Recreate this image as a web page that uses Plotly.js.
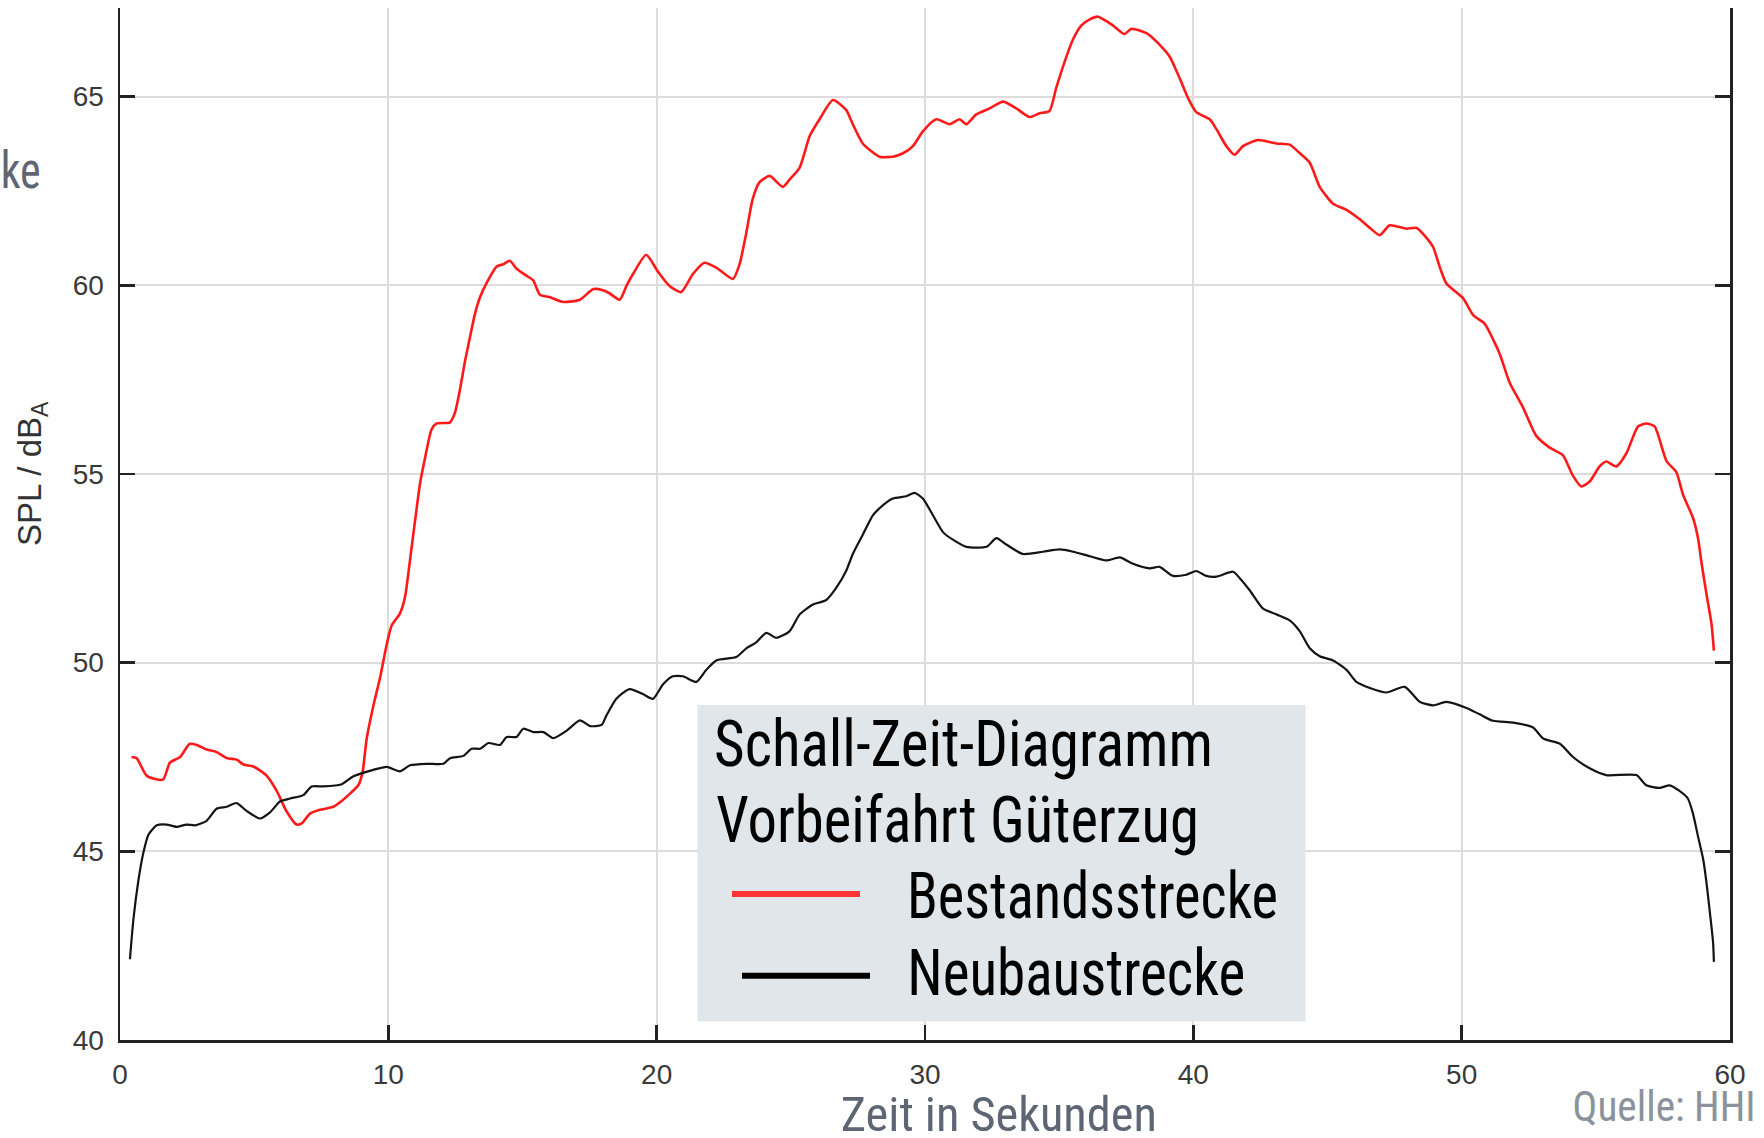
<!DOCTYPE html>
<html>
<head>
<meta charset="utf-8">
<script src="https://cdn.plot.ly/plotly-3.0.1.min.js"></script>
<style>
  html, body { margin: 0; padding: 0; background: #ffffff; }
  #chart { width: 1764px; height: 1138px; }
</style>
</head>
<body>
<div id="chart"></div>
<script>
// ---- data ----
const redTime = [0.43,0.62,1.0,1.6,1.86,2.24,2.6,2.86,3.23,3.6,3.98,4.35,4.6,4.97,5.47,5.84,6.2,6.58,6.77,7.08,7.45,7.95,8.2,8.57,8.88,9.04,9.19,9.44,9.69,9.94,10.12,10.43,10.62,10.81,10.99,11.18,11.37,11.61,11.8,12.3,12.48,12.67,12.86,13.04,13.23,13.42,13.66,14.04,14.29,14.53,14.78,15.16,15.4,15.65,16.0,16.52,17.14,17.64,18.0,
  18.24,18.62,18.87,19.12,19.61,20.04,20.48,20.91,21.35,21.78,22.22,22.84,23.09,23.34,23.58,23.83,24.21,24.7,24.95,25.33,25.7,26.07,26.57,27.06,27.31,27.68,28.3,28.8,29.18,29.55,29.92,30.42,30.92,31.29,31.54,31.91,32.41,32.91,33.4,33.9,34.27,34.64,34.89,35.27,35.51,35.83,36.14,36.45,36.76,
  37.0,37.44,37.69,38.31,38.74,39.12,39.49,39.8,40.11,40.61,40.86,41.23,41.54,41.85,42.41,43.09,43.59,43.97,44.34,44.71,45.21,45.71,46.2,46.58,46.95,47.32,47.94,48.32,48.69,48.94,49.18,49.43,50.05,50.43,50.86,51.17,51.42,51.79,
  52.29,52.78,53.28,53.77,54.15,54.46,54.77,55.14,55.39,55.76,56.14,56.57,56.88,57.19,57.63,58.0,58.25,58.62,58.81,58.94,59.12,59.31,59.4];
const redSPL = [47.5,47.47,47.0,46.9,47.35,47.5,47.85,47.82,47.7,47.63,47.47,47.43,47.3,47.25,47.0,46.6,46.07,45.71,45.74,46.0,46.1,46.18,46.3,46.53,46.75,47.1,47.97,48.85,49.6,50.48,50.98,51.3,51.73,52.73,53.73,54.74,55.43,56.18,56.34,56.37,56.62,57.24,58.0,58.62,59.25,59.69,60.06,60.5,60.56,60.65,60.44,60.25,60.13,59.75,59.69,59.56,59.62,59.9,59.87,
  59.79,59.62,59.98,60.3,60.81,60.37,59.98,59.82,60.3,60.6,60.47,60.17,60.56,61.39,62.29,62.73,62.9,62.61,62.8,63.12,63.95,64.4,64.91,64.65,64.27,63.76,63.41,63.41,63.5,63.69,64.08,64.4,64.27,64.4,64.27,64.53,64.69,64.87,64.69,64.46,64.56,64.62,65.23,66.06,66.51,66.89,67.05,67.12,67.0,
  66.89,66.66,66.8,66.66,66.38,66.06,65.49,64.97,64.59,64.4,64.14,63.69,63.46,63.69,63.85,63.76,63.73,63.5,63.25,62.61,62.16,62.0,61.75,61.52,61.33,61.59,61.5,61.52,61.26,61.01,60.49,60.05,59.66,59.21,58.98,58.57,58.18,57.42,
  56.76,56.01,55.7,55.5,54.95,54.67,54.8,55.2,55.33,55.2,55.55,56.26,56.34,56.26,55.35,55.05,54.45,53.84,53.29,52.64,51.83,51.03,50.32];

const blackTime = [0.37,0.5,0.68,0.87,1.06,1.37,1.74,2.11,2.48,2.8,3.23,3.6,3.98,4.35,4.72,5.22,5.59,5.96,6.34,6.83,7.14,7.58,8.26,8.7,9.44,9.94,10.43,10.81,11.43,12.05,12.3,12.8,13.1,13.42,13.73,14.16,14.41,14.78,15.03,15.4,15.78,16.15,16.65,17.14,17.52,17.95,
  18.12,18.49,18.99,19.48,19.86,20.23,20.6,20.98,21.48,21.85,22.22,22.97,23.34,23.71,24.09,24.46,24.95,25.33,25.82,26.32,26.69,27.06,27.31,27.68,28.05,28.3,28.8,29.3,29.61,29.92,30.3,30.67,31.04,31.54,32.29,32.66,33.03,33.65,34.4,35.02,35.52,36.14,36.76,
  37.26,37.75,38.37,38.74,39.24,39.74,40.11,40.48,40.86,41.48,41.73,42.1,42.6,43.1,43.59,43.97,44.34,44.71,45.21,45.71,46.08,46.58,47.2,47.88,48.44,48.94,49.43,50.18,50.67,51.17,51.92,52.66,53.04,53.66,54.15,54.77,55.39,56.51,56.88,57.38,57.75,58.12,58.43,58.62,58.81,59.0,59.12,59.25,59.37,59.4];
const blackSPL = [42.14,43.2,44.2,44.96,45.44,45.69,45.71,45.65,45.71,45.69,45.81,46.13,46.18,46.28,46.07,45.87,46.03,46.32,46.4,46.49,46.72,46.72,46.78,46.99,47.16,47.24,47.12,47.28,47.32,47.32,47.47,47.53,47.72,47.72,47.87,47.82,48.03,48.03,48.25,48.16,48.16,48.0,48.2,48.47,48.32,48.35,
  48.59,49.04,49.3,49.17,49.04,49.42,49.64,49.64,49.49,49.81,50.06,50.15,50.38,50.54,50.79,50.66,50.83,51.28,51.54,51.66,51.98,52.43,52.88,53.39,53.9,54.09,54.35,54.41,54.5,54.35,53.9,53.46,53.26,53.07,53.07,53.3,53.13,52.88,52.94,53.0,52.94,52.82,52.71,
  52.79,52.62,52.5,52.54,52.3,52.33,52.43,52.3,52.28,52.41,52.24,51.92,51.43,51.28,51.12,50.83,50.38,50.17,50.06,49.81,49.49,49.33,49.21,49.36,48.96,48.87,48.96,48.8,48.63,48.46,48.41,48.28,47.99,47.85,47.5,47.2,47.02,47.02,46.75,46.68,46.75,46.6,46.4,46.0,45.39,44.79,44.19,43.38,42.58,42.07];

const seriesNames = ["Bestandsstrecke", "Neubaustrecke"];
const legendTitleLines = ["Schall-Zeit-Diagramm", "Vorbeifahrt Güterzug"];
const xTickValues = [0, 10, 20, 30, 40, 50, 60];
const yTickValues = [40, 45, 50, 55, 60, 65];
const xAxisTitle = "Zeit in Sekunden";
const yAxisTitle = "SPL / dB<sub>A</sub>";
const sourceText = "Quelle: HHI";

// ---- geometry helpers (plot area in pixels) ----
const W = 1764, H = 1138;
const L = 120, R = 1730, T = 8, B = 1040;
const px = v => (v - L) / (R - L);
const py = v => (B - v) / (B - T);

const condenseFont = "'Roboto Condensed', 'Open Sans Condensed', 'Noto Sans Condensed', 'Liberation Sans Narrow', 'Noto Sans', sans-serif";
// target rendered widths (px) for the condensed texts
const condensedWidths = {};
condensedWidths[legendTitleLines[0]] = 499;
condensedWidths[legendTitleLines[1]] = 483;
condensedWidths[seriesNames[0]] = 371;
condensedWidths[seriesNames[1]] = 338;
condensedWidths[xAxisTitle] = 316;
condensedWidths[sourceText] = 183;
condensedWidths["ke"] = 40;

const traces = [
  { x: redTime, y: redSPL, name: seriesNames[0], type: 'scatter', mode: 'lines',
    line: { color: '#ff1a1a', width: 2.6, shape: 'spline', smoothing: 0.6 }, showlegend: false },
  { x: blackTime, y: blackSPL, name: seriesNames[1], type: 'scatter', mode: 'lines',
    line: { color: '#141414', width: 2.2, shape: 'spline', smoothing: 0.6 }, showlegend: false }
];

const tickFont = { family: "'Liberation Sans', Arial, sans-serif", size: 28, color: '#3a3a3a' };

const layout = {
  width: W, height: H,
  margin: { l: L, r: W - R, t: T, b: H - B, pad: 0 },
  paper_bgcolor: '#ffffff', plot_bgcolor: '#ffffff',
  showlegend: false,
  xaxis: {
    range: [0, 60], tickvals: xTickValues, ticktext: xTickValues.map(String),
    showline: true, linecolor: '#222222', linewidth: 2.5, mirror: false,
    ticks: 'inside', ticklen: 15, tickwidth: 2.5, tickcolor: '#222222',
    showgrid: true, gridcolor: '#dcdcdc', gridwidth: 2, zeroline: false,
    tickfont: tickFont, ticklabelstandoff: 8, fixedrange: true
  },
  yaxis: {
    range: [40, 67.35], tickvals: yTickValues, ticktext: yTickValues.map(String),
    showline: true, linecolor: '#222222', linewidth: 2.5, mirror: 'ticks',
    ticks: 'inside', ticklen: 15, tickwidth: 2.5, tickcolor: '#222222',
    showgrid: true, gridcolor: '#dcdcdc', gridwidth: 2, zeroline: false,
    tickfont: tickFont, ticklabelstandoff: 8, fixedrange: true
  },
  shapes: [
    { type: 'rect', xref: 'paper', yref: 'paper', x0: px(697.5), x1: px(1305.5), y0: py(1021.5), y1: py(705),
      fillcolor: '#e1e6ea', line: { width: 0 }, layer: 'above' },
    { type: 'line', xref: 'paper', yref: 'paper', x0: px(732), x1: px(860), y0: py(894), y1: py(894),
      line: { color: '#ff3535', width: 6 }, layer: 'above' },
    { type: 'line', xref: 'paper', yref: 'paper', x0: px(742), x1: px(870), y0: py(975.7), y1: py(975.7),
      line: { color: '#000000', width: 6 }, layer: 'above' }
  ],
  annotations: [
    { text: legendTitleLines[0], xref: 'paper', yref: 'paper', x: px(963.5), y: py(744), xanchor: 'center', yanchor: 'middle',
      showarrow: false, font: { family: condenseFont, size: 65, color: '#000000' } },
    { text: legendTitleLines[1], xref: 'paper', yref: 'paper', x: px(957.5), y: py(819.6), xanchor: 'center', yanchor: 'middle',
      showarrow: false, font: { family: condenseFont, size: 65, color: '#000000' } },
    { text: seriesNames[0], xref: 'paper', yref: 'paper', x: px(1092), y: py(896.3), xanchor: 'center', yanchor: 'middle',
      showarrow: false, font: { family: condenseFont, size: 65, color: '#000000' } },
    { text: seriesNames[1], xref: 'paper', yref: 'paper', x: px(1075.5), y: py(973.3), xanchor: 'center', yanchor: 'middle',
      showarrow: false, font: { family: condenseFont, size: 65, color: '#000000' } },
    { text: xAxisTitle, xref: 'paper', yref: 'paper', x: px(999), y: py(1114), xanchor: 'center', yanchor: 'middle',
      showarrow: false, font: { family: condenseFont, size: 48, color: '#5f6673' } },
    { text: sourceText, xref: 'paper', yref: 'paper', x: px(1663.5), y: py(1106), xanchor: 'center', yanchor: 'middle',
      showarrow: false, font: { family: condenseFont, size: 42, color: '#8c929c' } },
    { text: 'ke', xref: 'paper', yref: 'paper', x: px(20), y: py(171), xanchor: 'center', yanchor: 'middle',
      showarrow: false, font: { family: condenseFont, size: 52, color: '#5f6673' } },
    { text: yAxisTitle, xref: 'paper', yref: 'paper', x: px(32), y: py(474), xanchor: 'center', yanchor: 'middle',
      textangle: -90, showarrow: false, font: { family: "'Liberation Sans', Arial, sans-serif", size: 33, color: '#333333' } }
  ]
};

function condense() {
  document.querySelectorAll('#chart g.annotation text').forEach(function (t) {
    const w = condensedWidths[t.textContent];
    if (w) {
      t.setAttribute('textLength', w);
      t.setAttribute('lengthAdjust', 'spacingAndGlyphs');
    }
  });
}

Plotly.newPlot('chart', traces, layout, { displayModeBar: false, staticPlot: true }).then(condense);
</script>
</body>
</html>
